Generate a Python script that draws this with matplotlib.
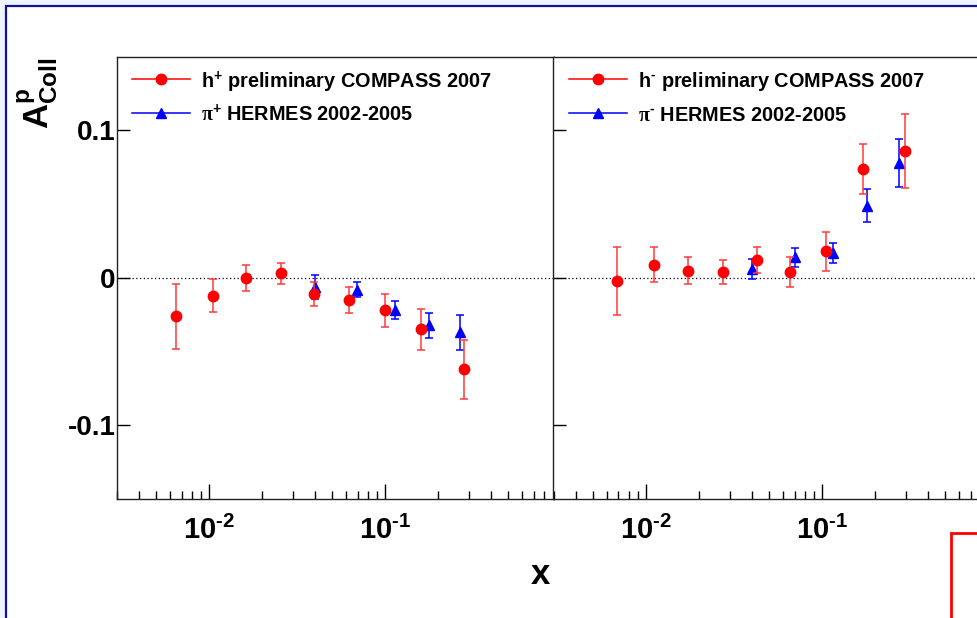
import numpy as np
import matplotlib
matplotlib.use("Agg")
import matplotlib.pyplot as plt
from matplotlib.patches import Rectangle
from matplotlib.ticker import FixedLocator, LogLocator, NullFormatter

plt.rcParams.update({
    'font.family': 'Liberation Sans', 'font.weight': 'bold',
    'mathtext.fontset': 'custom', 'mathtext.rm': 'Liberation Sans:bold',
    'mathtext.bf': 'Liberation Sans:bold', 'mathtext.sf': 'Liberation Serif',
    'mathtext.it': 'Liberation Sans:bold', 'mathtext.default': 'rm',
    'axes.linewidth': 1.0, 'axes.edgecolor': 'black'})

# ---- positive hadrons (COMPASS 2007) vs pi+ (HERMES) ----
hp_x = [0.0065, 0.0106, 0.0163, 0.0258, 0.0393, 0.0621, 0.0992, 0.160, 0.278]
hp_y = [-0.026, -0.012, 0.000, 0.003, -0.011, -0.015, -0.022, -0.035, -0.062]
hp_e = [0.022, 0.011, 0.009, 0.007, 0.008, 0.009, 0.011, 0.014, 0.020]
pip_x = [0.0402, 0.0695, 0.114, 0.178, 0.267]
pip_y = [-0.006, -0.008, -0.022, -0.032, -0.037]
pip_e = [0.008, 0.005, 0.006, 0.0085, 0.012]

# ---- negative hadrons (COMPASS 2007) vs pi- (HERMES) ----
hm_x = [0.0069, 0.0112, 0.0174, 0.0275, 0.0427, 0.0659, 0.106, 0.171, 0.295]
hm_y = [-0.002, 0.009, 0.005, 0.004, 0.012, 0.004, 0.018, 0.074, 0.086]
hm_e = [0.023, 0.012, 0.009, 0.008, 0.009, 0.010, 0.013, 0.017, 0.025]
pim_x = [0.0402, 0.070, 0.115, 0.181, 0.274]
pim_y = [0.006, 0.014, 0.017, 0.049, 0.078]
pim_e = [0.007, 0.0066, 0.007, 0.011, 0.016]

xtick_vals = [0.01, 0.1]
xtick_labels = [r'$10^{\text{-}2}$', r'$10^{\text{-}1}$']
ytick_vals = [-0.1, 0, 0.1]
ytick_labels = ['-0.1', '0', '0.1']

panels = [
    (hp_x, hp_y, hp_e, pip_x, pip_y, pip_e,
     [r'h$^{+}$ preliminary COMPASS 2007', r'$\mathsf{\pi}^{+}$ HERMES 2002-2005']),
    (hm_x, hm_y, hm_e, pim_x, pim_y, pim_e,
     [r'h$^{\text{-}}$ preliminary COMPASS 2007', r'$\mathsf{\pi}^{\text{-}}$ HERMES 2002-2005']),
]
styles = [dict(color='red', marker='o', ms=7.5), dict(color='blue', marker='^', ms=7)]

W, H = 978, 618
fig = plt.figure(figsize=(W/100, H/100), dpi=100)
fig.patch.set_facecolor('#eef5fe')
# canvas frame
fig.add_artist(Rectangle((6.5/W, -0.05), 1.0, 1 - 5.5/H + 0.05, transform=fig.transFigure,
                         facecolor='white', edgecolor='#11119c', lw=1.6, zorder=-5))

x0, x1, ytop, ybot = 116.7, 553.5, 56.8, 499.0
pw = (x1 - x0)/W; ph = (ybot - ytop)/H
for i, (cx, cy, ce, px, py, pe, labs) in enumerate(panels):
    ax = fig.add_axes([(x0 + i*(x1 - x0))/W, 1 - ybot/H, pw, ph])
    ax.set_xscale('log')
    ax.set_xlim(0.003, 0.9); ax.set_ylim(-0.15, 0.15)
    ax.axhline(0, color='black', ls=(0, (1, 2)), lw=0.9, zorder=1)
    ax.errorbar(px, py, yerr=pe, fmt='^', color='blue', ecolor='blue', ms=7, mec='blue',
                capsize=3, elinewidth=1.1, capthick=1.1, zorder=3)
    ax.errorbar(cx, cy, yerr=ce, fmt='o', color='red', ecolor='#ff3a3a', ms=7.5, mec='red',
                capsize=3, elinewidth=1.1, capthick=1.1, zorder=4)
    ax.xaxis.set_major_locator(FixedLocator(xtick_vals))
    ax.set_xticklabels(xtick_labels)
    ax.xaxis.set_minor_locator(LogLocator(base=10, subs=np.arange(2, 10)))
    ax.xaxis.set_minor_formatter(NullFormatter())
    ax.set_yticks(ytick_vals)
    ax.set_yticklabels(ytick_labels if i == 0 else [])
    ax.tick_params(axis='x', which='major', direction='in', length=10.8, width=1.0, labelsize=21, pad=12)
    ax.tick_params(axis='x', which='minor', direction='in', length=5.5, width=1.0)
    ax.tick_params(axis='y', which='major', direction='in', length=9.4, width=1.0, labelsize=20, pad=1)
    for s in ax.spines.values():
        s.set_color('#222222')
    # ROOT-style legend: line sample with centred marker, then label
    for row, (lab, st) in enumerate(zip(labs, styles)):
        yy = 0.9498 - row*0.0769
        ax.plot([0.035, 0.168], [yy, yy], color=st['color'], lw=1.1, transform=ax.transAxes, clip_on=False)
        ax.plot([0.1015], [yy], ls='none', mec=st['color'], transform=ax.transAxes, clip_on=False, **st)
        ax.text(0.194, yy, lab, transform=ax.transAxes, ha='left', va='center_baseline',
                fontsize=14.3, fontweight='bold')

fig.text(38/W, 1 - 57/H, r'$A^{p}_{Coll}$', rotation=90, ha='center', va='top', fontsize=25)
fig.text(540/W, 1 - 575/H, 'x', ha='center', va='center', fontsize=25, fontweight='bold')
fig.add_artist(Rectangle((951/W, -0.05), 0.2, 1 - 533/H + 0.05, transform=fig.transFigure,
                         fill=False, edgecolor='red', lw=2.0, zorder=5))

fig.savefig('out.png', dpi=100, facecolor=fig.get_facecolor())
